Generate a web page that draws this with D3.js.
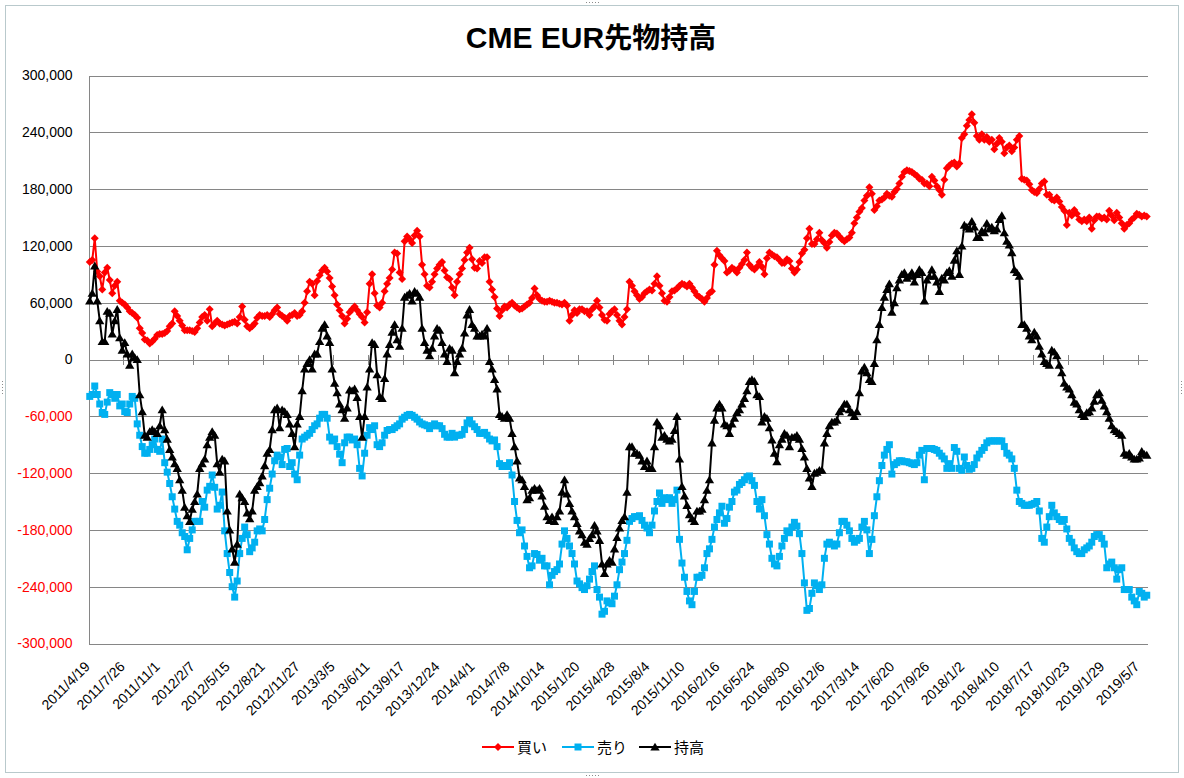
<!DOCTYPE html>
<html><head><meta charset="utf-8">
<script src="https://cdn.jsdelivr.net/npm/d3@7"></script>
<style>
html,body{margin:0;padding:0;background:#fff;}
svg{display:block;}
</style></head><body>
<svg id="c" width="1184" height="778"></svg>
<script>
const titleLatin = "CME EUR";
const titleCJK = "先物持高";
const seriesNames = ["買い", "売り", "持高"];
const seriesColors = ["#FF0000", "#00B0F0", "#000000"];
const startDate = [2011, 3, 19];
const xTickLabels = ["2011/4/19","2011/7/26","2011/11/1","2012/2/7","2012/5/15","2012/8/21","2012/11/27","2013/3/5","2013/6/11","2013/9/17","2013/12/24","2014/4/1","2014/7/8","2014/10/14","2015/1/20","2015/4/28","2015/8/4","2015/11/10","2016/2/16","2016/5/24","2016/8/30","2016/12/6","2017/3/14","2017/6/20","2017/9/26","2018/1/2","2018/4/10","2018/7/17","2018/10/23","2019/1/29","2019/5/7"];
const yTicks = [300000, 240000, 180000, 120000, 60000, 0, -60000, -120000, -180000, -240000, -300000];
const yTickLabels = ["300,000","240,000","180,000","120,000","60,000","0","-60,000","-120,000","-180,000","-240,000","-300,000"];
const unit = 1000; // series values below are in thousands of contracts

const longK = [
103,105,128,93,88,74,92,97,84,70,
78,82,62,60,58,55,51,49,47,44,
33,28,21,20,17,19,22,26,27,27,
28,30,35,38,51,46,41,36,31,31,
31,30,29,33,39,45,47,41,53,35,
38,41,38,37,36,37,38,39,40,38,
45,56,42,35,33,35,38,44,47,46,
46,47,45,48,52,55,48,46,44,41,
46,47,49,46,47,51,60,72,82,80,
68,83,89,94,97,93,86,77,68,58,
52,46,38,43,50,53,56,52,48,45,
39,50,80,90,70,57,55,60,72,80,
86,95,113,112,92,85,125,130,127,123,
131,136,130,100,90,78,76,82,90,96,
100,103,94,87,85,76,68,82,90,96,
105,113,118,106,97,96,104,102,108,108,
82,74,66,54,46,52,56,55,58,60,
57,55,53,54,56,58,60,65,75,68,
64,62,61,61,62,61,60,60,59,58,
60,57,41,47,52,49,53,53,51,51,
47,53,56,62,55,47,42,41,48,51,
53,47,41,37,45,53,82,78,72,68,
64,66,70,72,74,73,80,88,78,70,
62,61,66,72,73,75,78,80,79,77,
80,76,72,68,66,64,61,65,70,72,
100,115,110,107,104,92,94,97,95,92,
97,101,105,113,100,97,95,98,103,98,
90,107,113,111,109,108,105,102,102,106,
104,96,92,95,103,112,116,128,138,122,
122,127,134,126,123,118,124,131,134,133,
130,127,125,127,129,134,144,150,156,160,
168,173,182,175,158,162,168,169,171,175,
173,172,177,180,186,193,198,200,199,198,
196,194,191,190,186,186,183,193,189,183,
179,174,190,202,205,207,208,204,207,234,
238,247,253,259,250,236,232,238,232,235,
230,232,222,228,234,230,218,224,226,220,
224,232,236,191,190,189,185,179,177,176,
180,186,188,174,174,169,168,171,167,161,
157,142,155,152,158,154,148,146,148,146,
150,138,147,151,151,149,150,148,157,152,
147,155,150,144,138,142,144,148,150,154,
153,151,152,151];

const shortK = [
-39,-37,-28,-37,-47,-56,-58,-45,-35,-37,
-41,-37,-49,-47,-55,-56,-47,-39,-41,-68,
-80,-92,-99,-99,-95,-90,-84,-95,-97,-84,
-109,-119,-131,-145,-158,-171,-175,-183,-187,-201,
-189,-180,-171,-171,-171,-150,-156,-138,-134,-122,
-135,-158,-154,-140,-181,-205,-225,-240,-251,-234,
-205,-189,-177,-185,-203,-199,-193,-181,-179,-181,
-169,-148,-136,-121,-107,-101,-103,-111,-95,-94,
-113,-109,-121,-127,-101,-84,-82,-80,-78,-74,
-70,-68,-62,-58,-58,-62,-82,-86,-84,-92,
-100,-109,-88,-82,-82,-85,-84,-90,-115,-123,
-99,-80,-72,-74,-70,-90,-92,-88,-80,-75,
-74,-74,-72,-70,-68,-63,-61,-59,-58,-59,
-61,-63,-66,-68,-69,-70,-73,-70,-68,-70,
-70,-73,-79,-82,-82,-78,-82,-80,-80,-79,
-74,-67,-64,-68,-71,-74,-78,-78,-77,-80,
-84,-86,-85,-92,-110,-113,-112,-113,-109,-122,
-150,-170,-183,-180,-197,-208,-220,-218,-205,-206,
-212,-210,-218,-218,-238,-228,-224,-222,-216,-195,
-181,-189,-197,-205,-216,-234,-237,-241,-243,-239,
-232,-224,-218,-243,-251,-269,-266,-255,-257,-258,
-250,-238,-222,-214,-205,-191,-171,-168,-166,-166,
-165,-170,-175,-178,-183,-175,-160,-150,-141,-152,
-146,-148,-146,-152,-148,-138,-190,-215,-230,-245,
-255,-259,-245,-230,-230,-228,-220,-205,-200,-190,
-177,-169,-162,-155,-173,-168,-156,-150,-140,-138,
-132,-130,-127,-124,-123,-128,-133,-150,-158,-148,
-165,-185,-195,-210,-216,-218,-208,-197,-189,-181,
-183,-177,-172,-176,-184,-205,-236,-265,-263,-247,
-236,-239,-243,-238,-210,-195,-193,-195,-197,-195,
-183,-171,-171,-175,-181,-189,-193,-191,-189,-177,
-171,-180,-205,-190,-165,-145,-128,-112,-101,-95,
-90,-121,-111,-109,-107,-107,-108,-108,-109,-110,
-111,-109,-101,-96,-127,-94,-94,-94,-95,-96,
-99,-102,-105,-115,-110,-115,-93,-97,-115,-117,
-103,-112,-116,-115,-111,-104,-100,-96,-93,-88,
-86,-86,-86,-86,-86,-86,-92,-99,-101,-105,
-115,-138,-150,-152,-154,-154,-154,-153,-152,-150,
-160,-189,-193,-177,-166,-154,-162,-166,-169,-171,
-169,-179,-189,-193,-199,-203,-205,-205,-201,-199,
-197,-193,-187,-185,-185,-189,-195,-220,-216,-214,
-220,-232,-222,-220,-243,-243,-243,-251,-255,-259,
-245,-247,-251,-249];

const netK = [
62,70,99,62,41,19,19,51,49,27,
41,53,23,10,18,6,-6,6,2,0,
-37,-55,-80,-82,-76,-74,-76,-78,-70,-53,
-74,-84,-95,-103,-110,-115,-127,-138,-156,-165,
-171,-158,-150,-142,-115,-110,-105,-90,-82,-76,
-80,-110,-119,-105,-107,-160,-180,-200,-214,-195,
-142,-146,-150,-162,-168,-160,-138,-134,-130,-123,
-112,-99,-95,-74,-53,-51,-72,-53,-55,-58,
-68,-78,-92,-68,-60,-33,-10,-4,0,-10,
6,6,19,33,37,25,18,-10,-25,-35,
-47,-53,-62,-51,-32,-33,-31,-40,-60,-82,
-60,-29,-10,18,16,-16,-39,-41,-20,6,
16,29,37,21,14,33,66,68,70,62,
72,70,66,33,18,10,4,12,25,33,
31,18,6,-2,12,10,-14,-2,6,12,
28,47,53,37,33,25,25,27,25,33,
-2,-10,-21,-31,-58,-60,-62,-58,-62,-78,
-92,-107,-125,-127,-134,-148,-146,-138,-136,-138,
-136,-144,-155,-166,-170,-166,-171,-166,-160,-140,
-127,-142,-152,-160,-166,-173,-181,-185,-193,-195,
-189,-185,-175,-181,-191,-216,-226,-216,-212,-214,
-200,-188,-178,-170,-166,-140,-92,-92,-99,-99,
-101,-107,-113,-107,-115,-115,-92,-66,-70,-82,
-80,-84,-86,-84,-75,-60,-105,-134,-144,-154,
-164,-168,-171,-160,-160,-158,-148,-138,-127,-88,
-64,-51,-47,-51,-68,-70,-78,-68,-62,-56,
-53,-47,-41,-33,-23,-21,-23,-37,-39,-66,
-60,-62,-72,-85,-99,-108,-90,-84,-78,-80,
-92,-82,-82,-80,-84,-94,-103,-115,-125,-134,
-120,-119,-117,-117,-88,-78,-70,-66,-66,-64,
-55,-52,-47,-47,-53,-56,-60,-55,-35,-12,
-8,-14,-21,-23,-4,21,37,55,66,74,
80,50,60,76,84,90,92,86,88,92,
82,90,95,92,62,84,88,95,88,82,
72,86,84,92,94,88,105,115,90,120,
142,140,138,146,140,129,129,136,134,144,
138,140,136,138,148,152,134,125,121,113,
95,92,88,37,37,33,25,21,29,25,
14,6,-2,-4,-6,10,8,4,-6,-14,
-25,-29,-31,-37,-45,-47,-53,-58,-60,-56,
-55,-51,-44,-37,-35,-43,-49,-55,-62,-70,
-74,-76,-78,-80,-99,-101,-99,-103,-105,-105,
-104,-97,-100,-101];

// ---- categories (weekly dates) ----
const N = longK.length;
const fmt = d3.timeFormat("%Y/%-m/%-d");
const categories = d3.range(N).map(i => fmt(d3.timeWeek.offset(new Date(startDate[0], startDate[1], startDate[2]), i)));

const svg = d3.select("#c");
const W = 1184, H = 778;
const L = 88.5, R = 1148, T = 75.5, B = 643.5;
const latin = "'Liberation Sans', Arial, 'Noto Sans CJK JP', sans-serif";

// chart frame
svg.append("rect").attr("x", 0).attr("y", 0).attr("width", W).attr("height", H).attr("fill", "#fff");
svg.append("rect").attr("x", 5.5).attr("y", 5.5).attr("width", W - 11).attr("height", H - 11)
  .attr("fill", "none").attr("stroke", "#b9c9cc").attr("stroke-width", 1);
// selection handles (dotted) at the middle of each edge
const handleG = svg.append("g").attr("fill", "#8c8c8c");
d3.range(5).forEach(k => {
  handleG.append("rect").attr("x", 586 + k * 3).attr("y", 2).attr("width", 1).attr("height", 1);
  handleG.append("rect").attr("x", 586 + k * 3).attr("y", 775).attr("width", 1).attr("height", 1);
  handleG.append("rect").attr("x", 2).attr("y", 381 + k * 3).attr("width", 1).attr("height", 1);
  handleG.append("rect").attr("x", 1181).attr("y", 381 + k * 3).attr("width", 1).attr("height", 1);
});

const x = d3.scaleLinear().domain([0, N]).range([L, R]);
const y = d3.scaleLinear().domain([-300000, 300000]).range([B, T]);
const cx = i => x(i + 0.5);

// gridlines
const grid = svg.append("g").attr("transform", `translate(${L},0)`)
  .call(d3.axisLeft(y).tickValues(yTicks).tickSize(-(R - L)).tickFormat(""));
grid.select(".domain").remove();
grid.selectAll("line").attr("stroke", "#868686").attr("shape-rendering", "crispEdges");

// y axis labels + line
const yAx = svg.append("g").attr("transform", `translate(${L},0)`)
  .call(d3.axisLeft(y).tickValues(yTicks).tickSize(0).tickPadding(16)
    .tickFormat((d, i) => yTickLabels[i]));
yAx.select(".domain").attr("stroke", "#868686").attr("shape-rendering", "crispEdges");
yAx.selectAll("text").attr("font-family", latin).attr("font-size", 14)
  .attr("fill", d => d < 0 ? "#FF0000" : "#000");

// x axis tick marks on the zero line
const tickIdx = d3.range(0, N + 1, 14).filter(v => v <= N);
const xAx = svg.append("g").attr("transform", `translate(0,${y(0)})`)
  .call(d3.axisBottom(x).tickValues(tickIdx).tickSize(5).tickFormat(""));
xAx.select(".domain").remove();
xAx.selectAll("line").attr("y1", -5).attr("y2", 5).attr("stroke", "#868686").attr("shape-rendering", "crispEdges");

// x labels (rotated) at the bottom
const labelIdx = xTickLabels.map(l => categories.indexOf(l));
const xl = svg.append("g");
xl.selectAll("text").data(xTickLabels).join("text")
  .attr("transform", (d, i) => `translate(${cx(labelIdx[i]) + 1},${B + 24}) rotate(-45)`)
  .attr("text-anchor", "end")
  .attr("font-family", latin).attr("font-size", 14).attr("fill", "#000")
  .text(d => d);

// series
const series = [longK, shortK, netK];
const diamond = { draw(ctx, s) { const r = Math.sqrt(s) / 2; ctx.moveTo(0, -r); ctx.lineTo(r, 0); ctx.lineTo(0, r); ctx.lineTo(-r, 0); ctx.closePath(); } };
const square = { draw(ctx, s) { const r = Math.sqrt(s) / 2; ctx.rect(-r, -r, 2 * r, 2 * r); } };
const tri = { draw(ctx, s) { const r = Math.sqrt(s) / 2; ctx.moveTo(0, -r); ctx.lineTo(r * 1.1, r * 0.85); ctx.lineTo(-r * 1.1, r * 0.85); ctx.closePath(); } };
const symTypes = [diamond, square, tri];
const symSizes = [64, 49, 72];

const line = d3.line().x((d, i) => cx(i)).y(d => y(d * unit));
series.forEach((vals, k) => {
  const g = svg.append("g");
  g.append("path").datum(vals).attr("d", line).attr("fill", "none")
    .attr("stroke", seriesColors[k]).attr("stroke-width", 2).attr("stroke-linejoin", "round");
  g.selectAll("path.m").data(vals).join("path").attr("class", "m")
    .attr("transform", (d, i) => `translate(${cx(i)},${y(d * unit)})`)
    .attr("d", d3.symbol(symTypes[k], symSizes[k]))
    .attr("fill", seriesColors[k]);
});

// title
const tt = svg.append("text").attr("x", 591).attr("y", 48).attr("text-anchor", "middle")
  .attr("font-weight", "bold").attr("fill", "#000");
tt.append("tspan").attr("font-family", latin).attr("font-size", 30).text(titleLatin);
tt.append("tspan").attr("font-family", "'Noto Sans CJK JP', sans-serif").attr("font-size", 28).text(titleCJK);

// legend
const legX = [482, 562, 639];
const legY = 747;
seriesNames.forEach((name, k) => {
  const g = svg.append("g");
  g.append("line").attr("x1", legX[k]).attr("x2", legX[k] + 32).attr("y1", legY).attr("y2", legY)
    .attr("stroke", seriesColors[k]).attr("stroke-width", 2);
  g.append("path").attr("transform", `translate(${legX[k] + 16},${legY})`)
    .attr("d", d3.symbol(symTypes[k], symSizes[k])).attr("fill", seriesColors[k]);
  g.append("text").attr("x", legX[k] + 35).attr("y", legY + 6)
    .attr("font-family", "'Noto Sans CJK JP', sans-serif").attr("font-size", 15).attr("fill", "#000").text(name);
});
</script>
</body></html>
